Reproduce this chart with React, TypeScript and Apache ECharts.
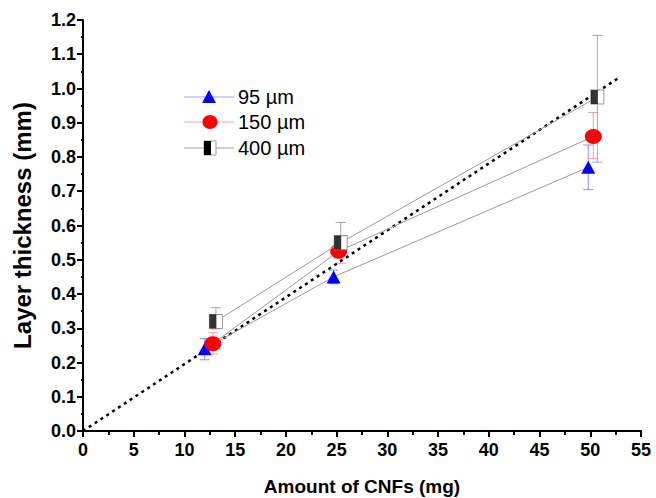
import React, { useEffect, useRef } from "react";
import * as echarts from "echarts";

const xTicks = [0, 5, 10, 15, 20, 25, 30, 35, 40, 45, 50, 55];
const seriesNames = ["95 µm", "150 µm", "400 µm"];

const x95 = [12.0, 24.7, 49.8];
const y95 = [0.24, 0.45, 0.77];
const lo95 = [0.208, 0.43, 0.705];
const hi95 = [0.27, 0.47, 0.835];

const x150 = [12.8, 25.2, 50.3];
const y150 = [0.255, 0.525, 0.86];
const lo150 = [0.225, 0.505, 0.795];
const hi150 = [0.287, 0.545, 0.93];

const x400 = [13.1, 25.4, 50.7];
const y400 = [0.32, 0.55, 0.975];
const lo400 = [0.298, 0.49, 0.785];
const hi400 = [0.36, 0.609, 1.155];

const fitLine = [
  [0, 0],
  [53, 1.035],
];

const FONT = "Liberation Sans, Arial, sans-serif";

function pts(xs: number[], ys: number[]) {
  return xs.map((x, i) => [x, ys[i]]);
}
function errs(xs: number[], lo: number[], hi: number[]) {
  return xs.map((x, i) => [x, lo[i], hi[i]]);
}

function errSeries(data: number[][], color: string) {
  return {
    type: "custom",
    data,
    z: 1,
    renderItem: (params: any, api: any) => {
      const top = api.coord([api.value(0), api.value(2)]);
      const bot = api.coord([api.value(0), api.value(1)]);
      const w = 5;
      const style = { stroke: color, lineWidth: 1 };
      return {
        type: "group",
        children: [
          { type: "line", shape: { x1: top[0], y1: top[1], x2: bot[0], y2: bot[1] }, style },
          { type: "line", shape: { x1: top[0] - w, y1: top[1], x2: top[0] + w, y2: top[1] }, style },
          { type: "line", shape: { x1: bot[0] - w, y1: bot[1], x2: bot[0] + w, y2: bot[1] }, style },
        ],
      };
    },
  };
}

export default function App() {
  const ref = useRef<HTMLDivElement>(null);
  useEffect(() => {
    if (!ref.current) return;
    const chart = echarts.init(ref.current, null, { renderer: "svg" });
    const lineGray = "#9a9a9a";
    const legendY = [97, 122, 148];
    const legFont = `20px ${FONT}`;
    chart.setOption({
      animation: false,
      backgroundColor: "#fff",
      grid: { left: 83, right: 15, top: 20, bottom: 67, outerBoundsMode: "none", containLabel: false },
      xAxis: {
        type: "value",
        min: 0,
        max: 55,
        interval: 5,
        name: "Amount of CNFs (mg)",
        nameLocation: "middle",
        nameGap: 46,
        nameTextStyle: { fontFamily: FONT, fontWeight: "bold", fontSize: 19, color: "#000" },
        axisLine: { lineStyle: { color: "#000", width: 2 } },
        axisTick: { length: 6, lineStyle: { color: "#000", width: 2 } },
        minorTick: { show: true, splitNumber: 2, length: 4, lineStyle: { color: "#000", width: 2 } },
        splitLine: { show: false },
        axisLabel: {
          fontFamily: FONT,
          fontWeight: "bold",
          fontSize: 18,
          color: "#000",
          margin: 10,
          hideOverlap: false,
          formatter: (v: number) => (xTicks.includes(v) ? String(v) : ""),
        },
      },
      yAxis: {
        type: "value",
        min: 0,
        max: 1.2,
        interval: 0.1,
        name: "Layer thickness (mm)",
        nameLocation: "middle",
        nameGap: 49,
        nameTextStyle: { fontFamily: FONT, fontWeight: "bold", fontSize: 24, color: "#000" },
        axisLine: { show: true, lineStyle: { color: "#000", width: 2 } },
        axisTick: { show: true, length: 6, lineStyle: { color: "#000", width: 2 } },
        minorTick: { show: true, splitNumber: 2, length: 2, lineStyle: { color: "#000", width: 2 } },
        splitLine: { show: false },
        axisLabel: {
          fontFamily: FONT,
          fontWeight: "bold",
          fontSize: 18,
          color: "#000",
          margin: 7,
          hideOverlap: false,
          formatter: (v: number) => v.toFixed(1),
        },
      },
      series: [
        {
          type: "line",
          data: fitLine,
          symbol: "none",
          lineStyle: { color: "#000", width: 2.5, type: [3, 4] },
          z: 3,
        },
        errSeries(errs(x95, lo95, hi95), "#8c8cff"),
        errSeries(errs(x150, lo150, hi150), "#ff9a9a"),
        errSeries(errs(x400, lo400, hi400), "#a8a8a8"),
        {
          name: seriesNames[0],
          type: "line",
          data: pts(x95, y95),
          symbol: "triangle",
          symbolSize: [14, 13],
          lineStyle: { color: lineGray, width: 1 },
          itemStyle: { color: "#0000ff" },
          z: 4,
        },
        {
          name: seriesNames[1],
          type: "line",
          data: pts(x150, y150),
          symbol: "circle",
          symbolSize: [17, 15],
          lineStyle: { color: lineGray, width: 1 },
          itemStyle: { color: "#ff0000" },
          z: 5,
        },
        {
          name: seriesNames[2],
          type: "line",
          data: pts(x400, y400),
          symbol: "rect",
          symbolSize: [13, 14],
          lineStyle: { color: lineGray, width: 1 },
          itemStyle: { color: "#fff", borderColor: "#999", borderWidth: 1 },
          z: 6,
        },
        {
          type: "scatter",
          data: pts(x400, y400),
          symbol: "rect",
          symbolSize: [7, 14],
          symbolOffset: [-3, 0],
          itemStyle: { color: "#000" },
          z: 7,
        },
      ],
      graphic: [
        { type: "line", shape: { x1: 184, y1: legendY[0], x2: 234, y2: legendY[0] }, style: { stroke: "#a0a0ff", lineWidth: 1 } },
        { type: "polygon", shape: { points: [[209, legendY[0] - 7], [202, legendY[0] + 6], [216, legendY[0] + 6]] }, style: { fill: "#0000ff" } },
        { type: "text", x: 238, y: legendY[0], style: { text: seriesNames[0], font: legFont, fill: "#000", verticalAlign: "middle" } },
        { type: "line", shape: { x1: 184, y1: legendY[1], x2: 234, y2: legendY[1] }, style: { stroke: "#ffa0a0", lineWidth: 1 } },
        { type: "ellipse", shape: { cx: 210, cy: legendY[1], rx: 7.5, ry: 7 }, style: { fill: "#ff0000" } },
        { type: "text", x: 238, y: legendY[1], style: { text: seriesNames[1], font: legFont, fill: "#000", verticalAlign: "middle" } },
        { type: "line", shape: { x1: 184, y1: legendY[2], x2: 234, y2: legendY[2] }, style: { stroke: "#a0a0a0", lineWidth: 1 } },
        { type: "rect", shape: { x: 204, y: legendY[2] - 7, width: 12, height: 14 }, style: { fill: "#fff", stroke: "#999", lineWidth: 1 } },
        { type: "rect", shape: { x: 204, y: legendY[2] - 7, width: 7, height: 14 }, style: { fill: "#000" } },
        { type: "text", x: 238, y: legendY[2], style: { text: seriesNames[2], font: legFont, fill: "#000", verticalAlign: "middle" } },
      ],
    });
    return () => chart.dispose();
  }, []);
  return <div ref={ref} style={{ width: 656, height: 498, position: "absolute", left: 0, top: 0 }} />;
}
